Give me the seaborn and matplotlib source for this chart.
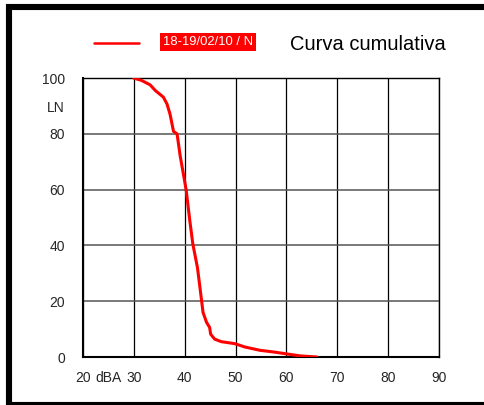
import matplotlib
matplotlib.use("Agg")
import matplotlib.pyplot as plt
from matplotlib.lines import Line2D
from matplotlib.patches import Rectangle
import seaborn as sns
import pandas as pd

# cumulative curve (dBA vs LN %)
dba = [30.0, 31.5, 33.2, 34.2, 35.8, 36.5, 37.1, 37.8, 38.5, 39.1, 39.8,
       40.3, 41.0, 41.6, 42.5, 43.0, 43.6, 44.3, 44.9, 45.1, 45.9, 47.2,
       49.8, 50.5, 51.8, 54.8, 57.5, 59.7, 62.7, 66.0]
ln = [100.0, 99.2, 97.6, 95.6, 93.2, 90.8, 87.2, 80.9, 80.0, 72.2, 65.0,
      59.7, 48.9, 40.5, 32.1, 24.9, 16.0, 12.4, 10.6, 8.2, 6.4, 5.5,
      4.8, 4.4, 3.6, 2.4, 1.8, 1.2, 0.4, 0.0]
series_name = "18-19/02/10 / N"
title = "Curva cumulativa"
xticks = [20, 30, 40, 50, 60, 70, 80, 90]
yticks = [0, 20, 40, 60, 80, 100]

df = pd.DataFrame({"dBA": dba, "LN": ln})

sns.set_style("white")
plt.rcParams['font.family'] = ['Liberation Sans', 'DejaVu Sans']

fig = plt.figure(figsize=(4.84, 4.05), dpi=100)
ax = fig.add_axes([0.1715, 0.1185, 0.7355, 0.6885])

sns.lineplot(data=df, x="dBA", y="LN", sort=False, estimator=None,
             color="#ff0000", linewidth=2.2, ax=ax, zorder=5)

ax.set_xlim(20, 90)
ax.set_ylim(0, 100)
ax.set_xticks(xticks)
ax.set_yticks(yticks)
# axis names sit in the tick label rows
ax.set_xticks([25], ["dBA"], minor=True)
ax.set_yticks([90], ["LN"], minor=True)
ax.tick_params(which="major", direction="out", length=8, width=0.8,
               color="#444444", labelsize=10, pad=2)
ax.tick_params(axis="y", which="major", length=11)
ax.tick_params(which="minor", length=0, labelsize=10, pad=2)
ax.tick_params(axis="y", which="minor", pad=13)
ax.tick_params(axis="x", which="minor", pad=10)
ax.set_xlabel("")
ax.set_ylabel("")

ax.grid(True, which="major", axis="x", color="black", linewidth=0.9)
ax.grid(True, which="major", axis="y", color="#555555", linewidth=1.1)
for s in ax.spines.values():
    s.set_color("black")
    s.set_linewidth(1.0)
ax.spines["left"].set_linewidth(1.5)
ax.spines["bottom"].set_linewidth(1.5)

# legend row drawn by hand
fig.add_artist(Line2D([94 / 484, 139 / 484], [1 - 43 / 405, 1 - 43 / 405],
                      color="#ff0000", linewidth=1.8))
fig.text(163 / 484, 1 - 42 / 405, series_name, color="white", fontsize=9.4,
         va="center", ha="left",
         bbox=dict(facecolor="#ff0000", edgecolor="none", pad=2.0))
fig.text(290 / 484, 1 - 45 / 405, title, color="black", fontsize=14.5,
         va="center", ha="left")

# thick black frame round the picture
fig.add_artist(Rectangle((9 / 484, 0.0), 1.1, 1 - 6.5 / 405,
                         transform=fig.transFigure, fill=False,
                         edgecolor="black", linewidth=4.4, clip_on=False))

fig.savefig("out.png", dpi=100, facecolor="white")
plt.close(fig)
